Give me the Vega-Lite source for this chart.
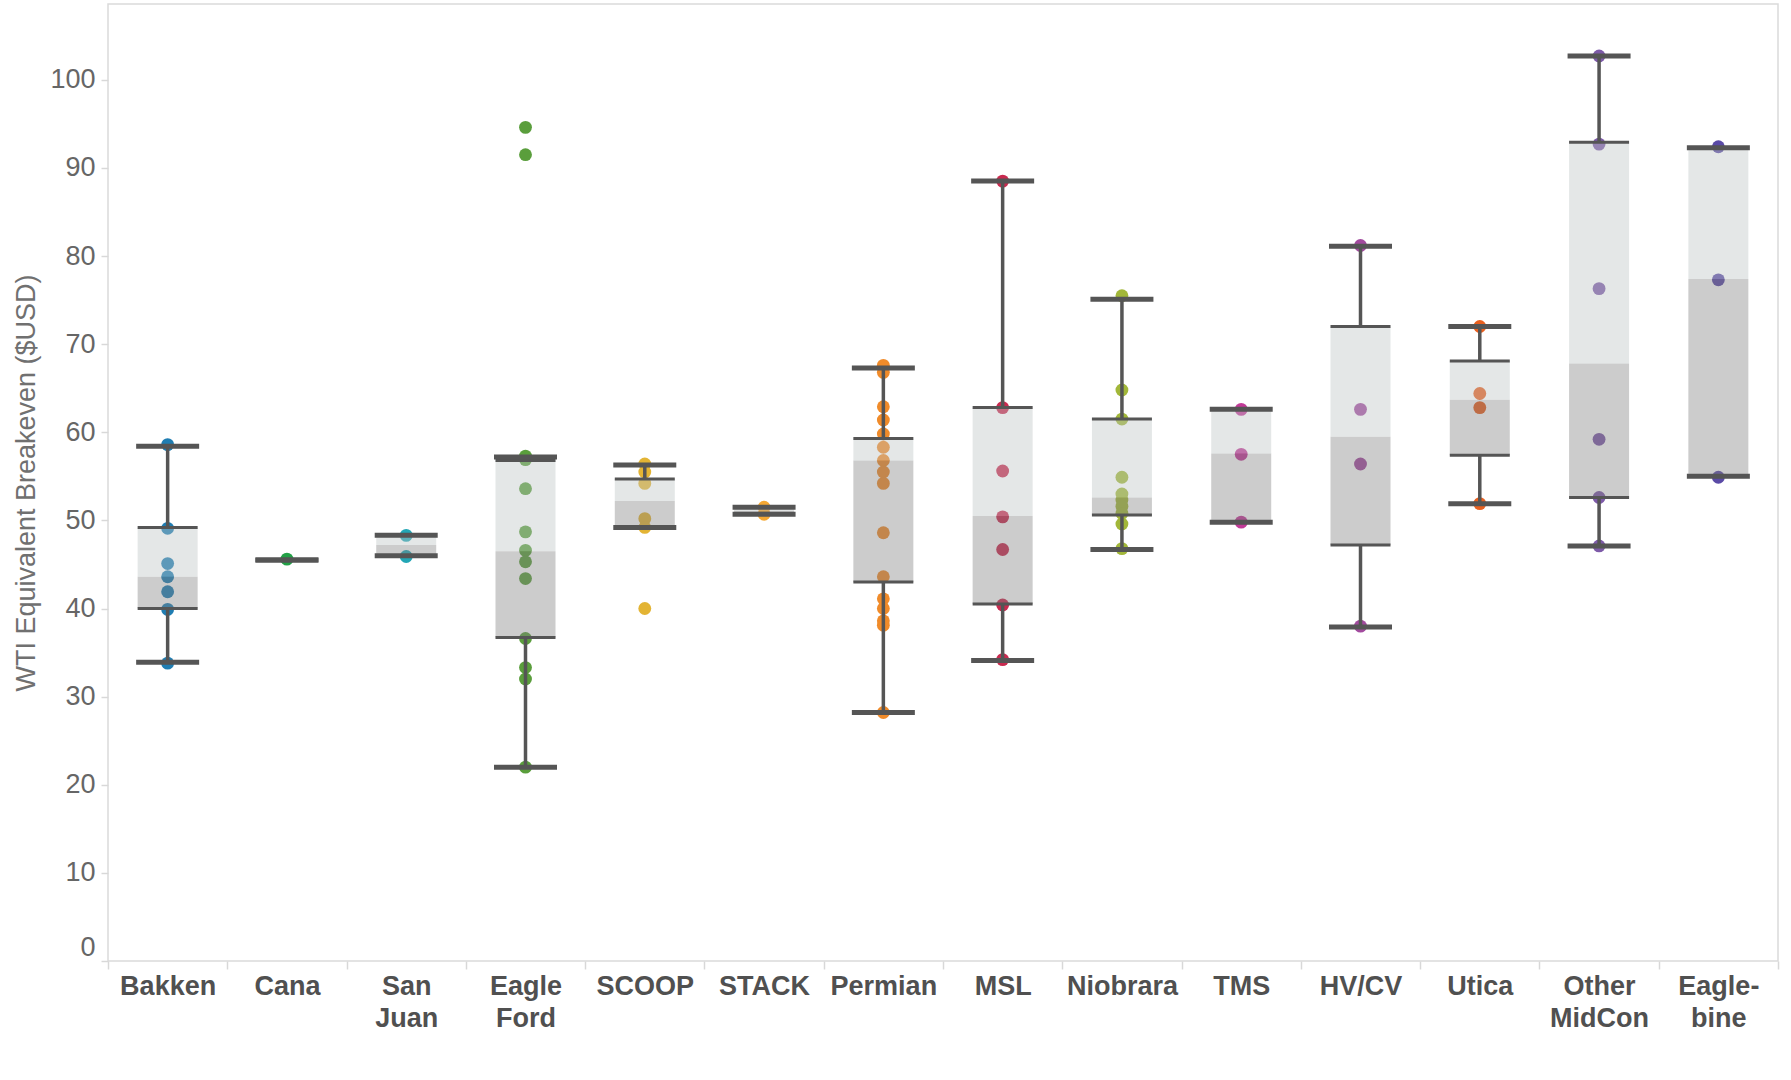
{
  "$schema": "https://vega.github.io/schema/vega-lite/v6.json",
  "autosize": {"type": "none"},
  "padding": {"left": 108, "top": 4, "right": 13, "bottom": 118},
  "width": 1670,
  "height": 957,
  "background": "white",
  "config": {
    "font": "Liberation Sans",
    "view": {"stroke": "#dadada", "strokeWidth": 1.5},
    "axis": {"domain": false, "grid": false}
  },
  "datasets": {
    "points": [
      {"basin": "Bakken", "value": 58.6}, {"basin": "Bakken", "value": 49.1}, {"basin": "Bakken", "value": 45.1}, {"basin": "Bakken", "value": 43.6}, {"basin": "Bakken", "value": 41.9}, {"basin": "Bakken", "value": 39.9}, {"basin": "Bakken", "value": 33.8},
      {"basin": "Cana", "value": 45.6},
      {"basin": "San Juan", "value": 48.3}, {"basin": "San Juan", "value": 45.9},
      {"basin": "Eagle Ford", "value": 94.6}, {"basin": "Eagle Ford", "value": 91.5}, {"basin": "Eagle Ford", "value": 57.3}, {"basin": "Eagle Ford", "value": 56.9}, {"basin": "Eagle Ford", "value": 53.6}, {"basin": "Eagle Ford", "value": 48.7}, {"basin": "Eagle Ford", "value": 46.6}, {"basin": "Eagle Ford", "value": 45.3}, {"basin": "Eagle Ford", "value": 43.4}, {"basin": "Eagle Ford", "value": 36.6}, {"basin": "Eagle Ford", "value": 33.3}, {"basin": "Eagle Ford", "value": 32.0}, {"basin": "Eagle Ford", "value": 22.0},
      {"basin": "SCOOP", "value": 56.4}, {"basin": "SCOOP", "value": 55.5}, {"basin": "SCOOP", "value": 54.2}, {"basin": "SCOOP", "value": 50.2}, {"basin": "SCOOP", "value": 49.2}, {"basin": "SCOOP", "value": 40.0},
      {"basin": "STACK", "value": 51.5}, {"basin": "STACK", "value": 50.7},
      {"basin": "Permian", "value": 67.6}, {"basin": "Permian", "value": 66.8}, {"basin": "Permian", "value": 62.9}, {"basin": "Permian", "value": 61.4}, {"basin": "Permian", "value": 59.8}, {"basin": "Permian", "value": 58.3}, {"basin": "Permian", "value": 56.8}, {"basin": "Permian", "value": 55.5}, {"basin": "Permian", "value": 54.2}, {"basin": "Permian", "value": 48.6}, {"basin": "Permian", "value": 43.6}, {"basin": "Permian", "value": 41.1}, {"basin": "Permian", "value": 40.0}, {"basin": "Permian", "value": 38.6}, {"basin": "Permian", "value": 38.1}, {"basin": "Permian", "value": 28.2},
      {"basin": "MSL", "value": 88.5}, {"basin": "MSL", "value": 62.8}, {"basin": "MSL", "value": 55.6}, {"basin": "MSL", "value": 50.4}, {"basin": "MSL", "value": 46.7}, {"basin": "MSL", "value": 40.4}, {"basin": "MSL", "value": 34.2},
      {"basin": "Niobrara", "value": 75.5}, {"basin": "Niobrara", "value": 64.8}, {"basin": "Niobrara", "value": 61.5}, {"basin": "Niobrara", "value": 54.9}, {"basin": "Niobrara", "value": 53.0}, {"basin": "Niobrara", "value": 52.3}, {"basin": "Niobrara", "value": 51.6}, {"basin": "Niobrara", "value": 50.8}, {"basin": "Niobrara", "value": 49.6}, {"basin": "Niobrara", "value": 46.8},
      {"basin": "TMS", "value": 62.6}, {"basin": "TMS", "value": 57.5}, {"basin": "TMS", "value": 49.8},
      {"basin": "HV/CV", "value": 81.2}, {"basin": "HV/CV", "value": 62.6}, {"basin": "HV/CV", "value": 56.4}, {"basin": "HV/CV", "value": 38.0},
      {"basin": "Utica", "value": 72.0}, {"basin": "Utica", "value": 64.4}, {"basin": "Utica", "value": 62.8}, {"basin": "Utica", "value": 51.9},
      {"basin": "Other MidCon", "value": 102.7}, {"basin": "Other MidCon", "value": 92.7}, {"basin": "Other MidCon", "value": 76.3}, {"basin": "Other MidCon", "value": 59.2}, {"basin": "Other MidCon", "value": 52.6}, {"basin": "Other MidCon", "value": 47.1},
      {"basin": "Eagle-bine", "value": 92.4}, {"basin": "Eagle-bine", "value": 77.3}, {"basin": "Eagle-bine", "value": 54.9}
    ],
    "boxes": [
      {"basin": "Bakken", "lo": 33.9, "q1": 40.0, "med": 43.6, "q3": 49.2, "hi": 58.4},
      {"basin": "Cana", "lo": 45.5, "q1": 45.5, "med": 45.5, "q3": 45.5, "hi": 45.5},
      {"basin": "San Juan", "lo": 46.0, "q1": 46.0, "med": 47.2, "q3": 48.3, "hi": 48.3},
      {"basin": "Eagle Ford", "lo": 22.0, "q1": 36.7, "med": 46.5, "q3": 56.8, "hi": 57.2},
      {"basin": "SCOOP", "lo": 49.2, "q1": 49.2, "med": 52.2, "q3": 54.7, "hi": 56.3},
      {"basin": "STACK", "lo": 50.7, "q1": 50.7, "med": 51.1, "q3": 51.5, "hi": 51.5},
      {"basin": "Permian", "lo": 28.2, "q1": 43.0, "med": 56.8, "q3": 59.3, "hi": 67.3},
      {"basin": "MSL", "lo": 34.1, "q1": 40.5, "med": 50.5, "q3": 62.8, "hi": 88.5},
      {"basin": "Niobrara", "lo": 46.7, "q1": 50.6, "med": 52.6, "q3": 61.5, "hi": 75.1},
      {"basin": "TMS", "lo": 49.8, "q1": 49.8, "med": 57.6, "q3": 62.6, "hi": 62.6},
      {"basin": "HV/CV", "lo": 37.9, "q1": 47.2, "med": 59.5, "q3": 72.0, "hi": 81.1},
      {"basin": "Utica", "lo": 51.9, "q1": 57.4, "med": 63.7, "q3": 68.1, "hi": 72.0},
      {"basin": "Other MidCon", "lo": 47.1, "q1": 52.6, "med": 67.8, "q3": 92.9, "hi": 102.7},
      {"basin": "Eagle-bine", "lo": 55.0, "q1": 55.0, "med": 77.4, "q3": 92.3, "hi": 92.3}
    ]
  },
  "encoding": {
    "x": {
      "field": "basin", "type": "nominal",
      "sort": ["Bakken", "Cana", "San Juan", "Eagle Ford", "SCOOP", "STACK", "Permian", "MSL", "Niobrara", "TMS", "HV/CV", "Utica", "Other MidCon", "Eagle-bine"],
      "scale": {"paddingInner": 0, "paddingOuter": 0},
      "axis": {
        "title": null, "labelAngle": 0,
        "labelExpr": "!isString(datum.value) ? '' : datum.value == 'Eagle-bine' ? ['Eagle-', 'bine'] : split(datum.value, ' ')",
        "labelFont": "Liberation Sans", "labelFontSize": 27, "labelFontWeight": "bold", "labelColor": "#505050",
        "labelLineHeight": 32, "labelPadding": 4,
        "tickBand": "extent", "tickColor": "#d8d8d8", "tickSize": 8, "tickWidth": 1.5
      }
    }
  },
  "layer": [
    {
      "data": {"name": "points"},
      "mark": {"type": "circle", "size": 165, "opacity": 1},
      "encoding": {
        "y": {
          "field": "value", "type": "quantitative",
          "scale": {"domain": [0, 108.6], "nice": false, "zero": true},
          "axis": {
            "title": "WTI Equivalent Breakeven ($USD)",
            "values": [0, 10, 20, 30, 40, 50, 60, 70, 80, 90, 100],
            "labelFontSize": 27, "labelColor": "#666666", "labelPadding": 6, "labelFlush": true,
            "tickColor": "#d8d8d8", "tickSize": 7, "tickWidth": 1.5,
            "titleFontSize": 27, "titleFontWeight": "normal", "titleColor": "#707070", "titlePadding": 9
          }
        },
        "color": {
          "field": "basin", "type": "nominal", "legend": null,
          "scale": {
            "domain": ["Bakken", "Cana", "San Juan", "Eagle Ford", "SCOOP", "STACK", "Permian", "MSL", "Niobrara", "TMS", "HV/CV", "Utica", "Other MidCon", "Eagle-bine"],
            "range": ["#1f7db2", "#22a046", "#22a6b5", "#5a9e3c", "#e3b434", "#f5a833", "#f08b2a", "#c92a4f", "#a2b739", "#c23a98", "#a24a9e", "#e8601f", "#7d5aa8", "#5a4aa6"]
          }
        }
      }
    },
    {
      "data": {"name": "boxes"},
      "mark": {"type": "bar", "width": 60, "color": "#7f7f7f", "opacity": 0.4},
      "encoding": {"y": {"field": "q1", "type": "quantitative"}, "y2": {"field": "med"}}
    },
    {
      "data": {"name": "boxes"},
      "mark": {"type": "bar", "width": 60, "color": "#bcc2c2", "opacity": 0.4},
      "encoding": {"y": {"field": "med", "type": "quantitative"}, "y2": {"field": "q3"}}
    },
    {
      "data": {"name": "boxes"},
      "mark": {"type": "rule", "color": "#555555", "strokeWidth": 3.5},
      "encoding": {"y": {"field": "lo", "type": "quantitative"}, "y2": {"field": "q1"}}
    },
    {
      "data": {"name": "boxes"},
      "mark": {"type": "rule", "color": "#555555", "strokeWidth": 3.5},
      "encoding": {"y": {"field": "q3", "type": "quantitative"}, "y2": {"field": "hi"}}
    },
    {
      "data": {"name": "boxes"},
      "mark": {"type": "tick", "color": "#555555", "size": 60, "thickness": 3, "opacity": 1},
      "encoding": {"y": {"field": "q1", "type": "quantitative"}}
    },
    {
      "data": {"name": "boxes"},
      "mark": {"type": "tick", "color": "#555555", "size": 60, "thickness": 3, "opacity": 1},
      "encoding": {"y": {"field": "q3", "type": "quantitative"}}
    },
    {
      "data": {"name": "boxes"},
      "mark": {"type": "tick", "color": "#555555", "size": 63, "thickness": 5, "opacity": 1},
      "encoding": {"y": {"field": "lo", "type": "quantitative"}}
    },
    {
      "data": {"name": "boxes"},
      "mark": {"type": "tick", "color": "#555555", "size": 63, "thickness": 5, "opacity": 1},
      "encoding": {"y": {"field": "hi", "type": "quantitative"}}
    }
  ]
}
